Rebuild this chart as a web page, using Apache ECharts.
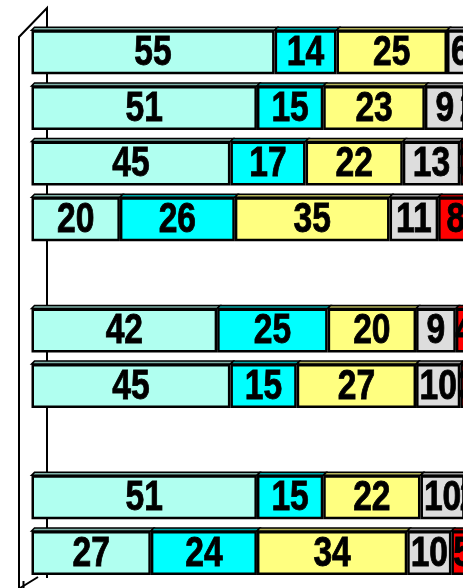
<!DOCTYPE html>
<html>
<head>
<meta charset="utf-8">
<script src="https://cdn.jsdelivr.net/npm/echarts@6/dist/echarts.min.js"></script>
<style>
  html, body { margin: 0; padding: 0; background: #fff; }
  #chart { width: 463px; height: 588px; }
</style>
</head>
<body>
<div id="chart"></div>
<script>
// rows top to bottom, empty slots are the gaps between groups
const categories = ["r1", "r2", "r3", "r4", "", "r6", "r7", " ", "r9", "r10"]
const paleCyan = [55, 51, 45, 20, null, 42, 45, null, 51, 27]
const cyan = [14, 15, 17, 26, null, 25, 15, null, 15, 24]
const yellow = [25, 23, 22, 35, null, 20, 27, null, 22, 34]
const grey = [6, 9, 13, 11, null, 9, 10, null, 10, 10]
const red = [0, 2, 3, 8, null, 4, 3, null, 2, 5]

const seriesData = [paleCyan, cyan, yellow, grey, red]
const faceColors = ["#b0fff0", "#00ffff", "#ffff80", "#dddddd", "#ff0000"]
const topColors = ["#7fb2a8", "#00a6a6", "#b3b35a", "#9a9a9a", "#a80000"]

const chart = echarts.init(document.getElementById("chart"))
window.addEventListener("resize", function () {
  chart.resize()
})

const BAR_H = 44
const D = 3 // depth of the 3d top face

// segments: [row, start, end, colour index, value]
const segs = []
categories.forEach(function (c, i) {
  let acc = 0
  seriesData.forEach(function (arr, k) {
    const v = arr[i]
    if (v) {
      segs.push([i, acc, acc + v, k, v])
      acc += v
    }
  })
})

const bars = seriesData.map(function (arr, k) {
  return {
    type: "bar",
    stack: "total",
    barWidth: BAR_H,
    clip: false,
    data: arr,
    z: 3,
    itemStyle: { color: faceColors[k], borderColor: "#000", borderWidth: 2.5 },
  }
})

const option = {
  animation: false,
  // the plot runs past the right edge of the picture (100% is off-screen)
  grid: { left: 31.5, right: 0, top: 24.5, bottom: 7.2 },
  xAxis: { type: "value", min: 0, max: 97.62, show: false },
  yAxis: { type: "category", data: categories, inverse: true, show: false },
  graphic: [
    // left side wall of the 3d box
    { type: "polyline", z: 0, shape: { points: [[19, 588], [19, 37], [47, 8], [47, 578]] },
      style: { stroke: "#000", lineWidth: 2, fill: null } },
    { type: "line", z: 0, shape: { x1: 20, y1: 588, x2: 38, y2: 577 },
      style: { stroke: "#000", lineWidth: 2 } },
    { type: "line", z: 0, shape: { x1: 23.5, y1: 581, x2: 23.5, y2: 588 },
      style: { stroke: "#000", lineWidth: 2 } },
  ],
  series: bars.concat([
    {
      // top faces
      type: "custom",
      z: 2,
      clip: false,
      encode: { x: [1, 2], y: 0 },
      data: segs,
      renderItem: function (params, api) {
        const row = api.value(0)
        const p0 = api.coord([api.value(1), row])
        const p1 = api.coord([api.value(2), row])
        const y = p0[1] - BAR_H / 2
        return {
          type: "polygon",
          shape: { points: [[p0[0], y], [p0[0] + D, y - D], [p1[0] + D, y - D], [p1[0], y]] },
          style: { fill: topColors[api.value(3)], stroke: "#000", lineWidth: 1.5 },
        }
      },
    },
    {
      // value labels, narrow bold
      type: "custom",
      z: 5,
      clip: false,
      encode: { x: [1, 2], y: 0 },
      data: segs,
      renderItem: function (params, api) {
        const row = api.value(0)
        const p = api.coord([(api.value(1) + api.value(2)) / 2, row])
        return {
          type: "text",
          x: p[0],
          y: p[1] + 1,
          scaleX: 0.8,
          style: {
            text: String(api.value(4)),
            x: 0,
            y: 0,
            align: "center",
            verticalAlign: "middle",
            fill: "#000",
            stroke: "#000",
            lineWidth: 0.9,
            font: "bold 42px 'Liberation Sans', Arial, sans-serif",
          },
        }
      },
    },
  ]),
}

option && chart.setOption(option)
</script>
</body>
</html>
